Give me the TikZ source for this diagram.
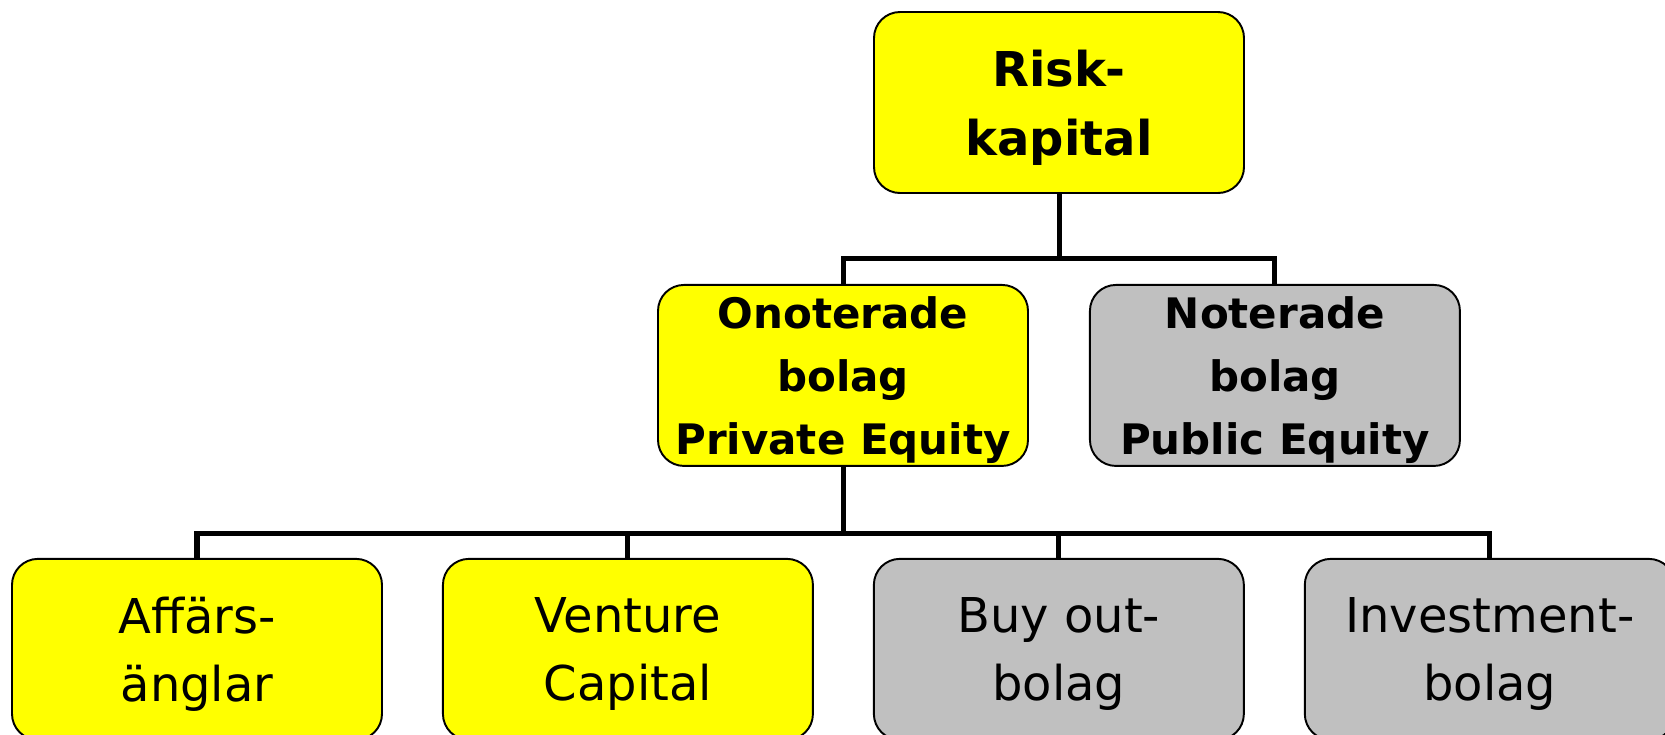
\documentclass[tikz,border=0pt]{standalone}
\usepackage{fontspec}
\setmainfont{DejaVu Sans}
\usetikzlibrary{positioning}
\definecolor{kapyellow}{HTML}{FFFF00}
\definecolor{kapgray}{HTML}{C0C0C0}
\tikzset{
    %Define style for boxes
    kapbox/.style={
   	rectangle,
   	rounded corners=0.52cm,
   	draw=black, line width=1.1pt,
   	minimum width=7.4cm,
   	minimum height=3.62cm,
   	inner sep=0pt,
   	text depth=0pt,
   	align=center,
   	text centered
   },
   topbox/.style={
   	kapbox,
   	font=\fontsize{27.3}{39}\selectfont\bfseries,
   	fill=kapyellow
   },
   midbox/.style={
   	kapbox,
   	font=\fontsize{23.9}{35.8}\selectfont\bfseries
   },
   botbox/.style={
   	kapbox,
   	font=\fontsize{27.3}{38.7}\selectfont
   },
    % Define connector style
    conn/.style={
           line width=2.85pt,
           draw=black},
}
\begin{document}
\begin{tikzpicture}[node distance=1.18cm]
\useasboundingbox (0,0) rectangle (33.3,-14.68);
%nodes
\node[topbox](risk) at (21.18,-2.05){Risk-\\kapital};
\node[midbox, fill=kapyellow, below=1.8cm of risk, xshift=-4.32cm](onot){Onoterade\\bolag\\Private Equity};
\node[midbox, fill=kapgray, right=1.2cm of onot](not){Noterade\\bolag\\Public Equity};
\node[botbox, fill=kapyellow, below=1.82cm of onot, xshift=-12.92cm](angel){Affärs-\\änglar};
\node[botbox, fill=kapyellow, right=of angel](vc){Venture\\Capital};
\node[botbox, fill=kapgray, right=of vc](buyout){Buy out-\\bolag};
\node[botbox, fill=kapgray, right=of buyout](invest){Investment-\\bolag};
%connectors
\draw[conn] (risk.south) -- ++(0,-1.3) coordinate (hub1);
\draw[conn] (hub1) -| (onot.north);
\draw[conn] (hub1) -| (not.north);
\draw[conn] (onot.south) -- ++(0,-1.34) coordinate (hub2);
\draw[conn] (hub2) -| (angel.north);
\draw[conn] (hub2) -| (vc.north);
\draw[conn] (hub2) -| (buyout.north);
\draw[conn] (hub2) -| (invest.north);
\end{tikzpicture}
\end{document}
